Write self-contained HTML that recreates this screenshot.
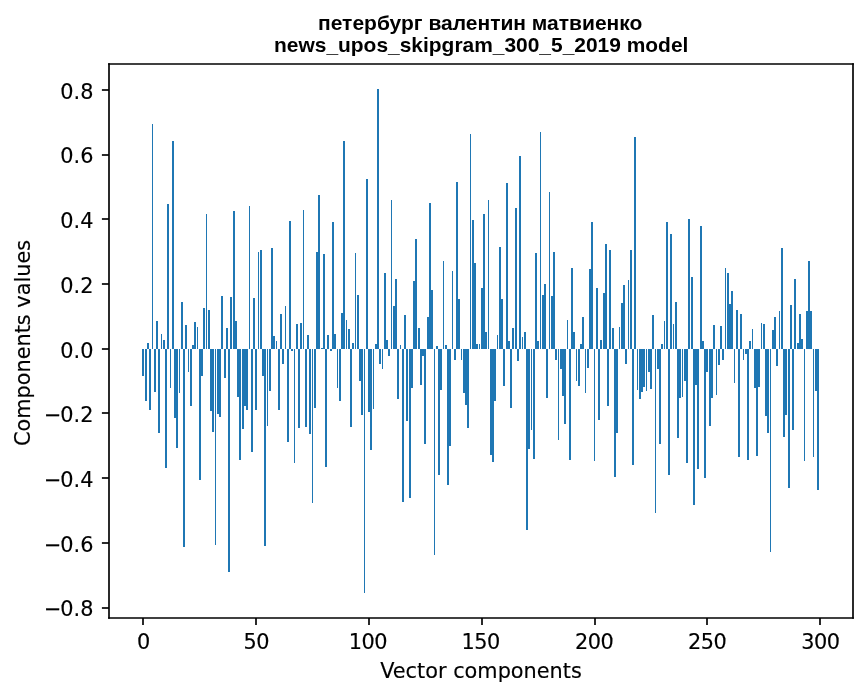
<!DOCTYPE html>
<html lang="ru"><head><meta charset="utf-8"><title>Vector components</title>
<style>html,body{margin:0;padding:0;background:#fff}svg{display:block}.t{font-family:"DejaVu Sans","Liberation Sans",sans-serif;font-size:20.83px;fill:#000;stroke:#000;stroke-width:0.15px}.h{font-family:"Liberation Sans","DejaVu Sans",sans-serif;font-weight:bold;font-size:20.9px;fill:#000}</style></head><body>
<svg width="867" height="696" viewBox="0 0 867 696">
<rect width="867" height="696" fill="#fff"/>
<g fill="#1f77b4" shape-rendering="crispEdges">
<rect x="142" y="349" width="2" height="27"/>
<rect x="145" y="349" width="2" height="52"/>
<rect x="147" y="343" width="2" height="6"/>
<rect x="149" y="349" width="2" height="61"/>
<rect x="152" y="124" width="1" height="225"/>
<rect x="154" y="349" width="2" height="43"/>
<rect x="156" y="321" width="2" height="28"/>
<rect x="158" y="349" width="2" height="84"/>
<rect x="161" y="334" width="1" height="15"/>
<rect x="163" y="340" width="2" height="9"/>
<rect x="165" y="349" width="2" height="119"/>
<rect x="167" y="204" width="2" height="145"/>
<rect x="170" y="349" width="1" height="39"/>
<rect x="172" y="141" width="2" height="208"/>
<rect x="174" y="349" width="2" height="69"/>
<rect x="176" y="349" width="2" height="99"/>
<rect x="179" y="349" width="1" height="44"/>
<rect x="181" y="302" width="2" height="47"/>
<rect x="183" y="349" width="2" height="198"/>
<rect x="185" y="325" width="2" height="24"/>
<rect x="188" y="349" width="1" height="23"/>
<rect x="190" y="349" width="2" height="57"/>
<rect x="192" y="345" width="2" height="4"/>
<rect x="194" y="322" width="2" height="27"/>
<rect x="197" y="327" width="1" height="22"/>
<rect x="199" y="349" width="2" height="131"/>
<rect x="201" y="349" width="2" height="27"/>
<rect x="203" y="308" width="2" height="41"/>
<rect x="206" y="214" width="1" height="135"/>
<rect x="208" y="310" width="2" height="39"/>
<rect x="210" y="349" width="2" height="62"/>
<rect x="212" y="349" width="2" height="83"/>
<rect x="215" y="349" width="1" height="196"/>
<rect x="217" y="349" width="2" height="65"/>
<rect x="219" y="349" width="2" height="68"/>
<rect x="221" y="296" width="2" height="53"/>
<rect x="224" y="349" width="2" height="29"/>
<rect x="226" y="328" width="2" height="21"/>
<rect x="228" y="349" width="2" height="223"/>
<rect x="230" y="297" width="2" height="52"/>
<rect x="233" y="211" width="2" height="138"/>
<rect x="235" y="321" width="2" height="28"/>
<rect x="237" y="349" width="2" height="48"/>
<rect x="239" y="349" width="2" height="111"/>
<rect x="242" y="349" width="2" height="80"/>
<rect x="244" y="349" width="2" height="57"/>
<rect x="246" y="349" width="2" height="61"/>
<rect x="249" y="206" width="1" height="143"/>
<rect x="251" y="349" width="2" height="103"/>
<rect x="253" y="298" width="2" height="51"/>
<rect x="255" y="349" width="2" height="61"/>
<rect x="258" y="252" width="1" height="97"/>
<rect x="260" y="250" width="2" height="99"/>
<rect x="262" y="349" width="2" height="27"/>
<rect x="264" y="349" width="2" height="197"/>
<rect x="267" y="349" width="1" height="77"/>
<rect x="269" y="349" width="2" height="42"/>
<rect x="271" y="248" width="2" height="101"/>
<rect x="273" y="336" width="2" height="13"/>
<rect x="276" y="341" width="1" height="8"/>
<rect x="278" y="349" width="2" height="61"/>
<rect x="280" y="314" width="2" height="35"/>
<rect x="282" y="349" width="2" height="15"/>
<rect x="285" y="306" width="1" height="43"/>
<rect x="287" y="349" width="2" height="93"/>
<rect x="289" y="221" width="2" height="128"/>
<rect x="291" y="349" width="2" height="2"/>
<rect x="294" y="349" width="1" height="114"/>
<rect x="296" y="324" width="2" height="25"/>
<rect x="298" y="349" width="2" height="79"/>
<rect x="300" y="323" width="2" height="26"/>
<rect x="303" y="210" width="1" height="139"/>
<rect x="305" y="349" width="2" height="78"/>
<rect x="307" y="335" width="2" height="14"/>
<rect x="309" y="349" width="2" height="85"/>
<rect x="312" y="349" width="1" height="154"/>
<rect x="314" y="349" width="2" height="59"/>
<rect x="316" y="252" width="2" height="97"/>
<rect x="318" y="195" width="2" height="154"/>
<rect x="321" y="348" width="2" height="1"/>
<rect x="323" y="254" width="2" height="95"/>
<rect x="325" y="349" width="2" height="118"/>
<rect x="327" y="335" width="2" height="14"/>
<rect x="330" y="349" width="2" height="2"/>
<rect x="332" y="222" width="2" height="127"/>
<rect x="334" y="334" width="2" height="15"/>
<rect x="337" y="349" width="1" height="39"/>
<rect x="339" y="349" width="2" height="52"/>
<rect x="341" y="313" width="2" height="36"/>
<rect x="343" y="141" width="2" height="208"/>
<rect x="346" y="320" width="1" height="29"/>
<rect x="348" y="329" width="2" height="20"/>
<rect x="350" y="349" width="2" height="78"/>
<rect x="352" y="343" width="2" height="6"/>
<rect x="355" y="253" width="1" height="96"/>
<rect x="357" y="295" width="2" height="54"/>
<rect x="359" y="349" width="2" height="32"/>
<rect x="361" y="349" width="2" height="66"/>
<rect x="364" y="349" width="1" height="244"/>
<rect x="366" y="179" width="2" height="170"/>
<rect x="368" y="349" width="2" height="63"/>
<rect x="370" y="349" width="2" height="101"/>
<rect x="373" y="349" width="1" height="60"/>
<rect x="375" y="344" width="2" height="5"/>
<rect x="377" y="89" width="2" height="260"/>
<rect x="379" y="349" width="2" height="15"/>
<rect x="382" y="349" width="1" height="20"/>
<rect x="384" y="273" width="2" height="76"/>
<rect x="386" y="340" width="2" height="9"/>
<rect x="388" y="349" width="2" height="7"/>
<rect x="391" y="200" width="1" height="149"/>
<rect x="393" y="306" width="2" height="43"/>
<rect x="395" y="279" width="2" height="70"/>
<rect x="397" y="349" width="2" height="50"/>
<rect x="400" y="345" width="1" height="4"/>
<rect x="402" y="349" width="2" height="153"/>
<rect x="404" y="315" width="2" height="34"/>
<rect x="406" y="349" width="2" height="72"/>
<rect x="409" y="349" width="2" height="149"/>
<rect x="411" y="349" width="2" height="39"/>
<rect x="413" y="281" width="2" height="68"/>
<rect x="415" y="239" width="2" height="110"/>
<rect x="418" y="328" width="2" height="21"/>
<rect x="420" y="349" width="2" height="36"/>
<rect x="422" y="349" width="2" height="7"/>
<rect x="424" y="349" width="2" height="95"/>
<rect x="427" y="317" width="2" height="32"/>
<rect x="429" y="203" width="2" height="146"/>
<rect x="431" y="290" width="2" height="59"/>
<rect x="434" y="349" width="1" height="206"/>
<rect x="436" y="346" width="2" height="3"/>
<rect x="438" y="349" width="2" height="126"/>
<rect x="440" y="349" width="2" height="41"/>
<rect x="443" y="261" width="1" height="88"/>
<rect x="445" y="345" width="2" height="4"/>
<rect x="447" y="349" width="2" height="136"/>
<rect x="449" y="349" width="2" height="97"/>
<rect x="452" y="271" width="1" height="78"/>
<rect x="454" y="349" width="2" height="11"/>
<rect x="456" y="182" width="2" height="167"/>
<rect x="458" y="299" width="2" height="50"/>
<rect x="461" y="349" width="1" height="11"/>
<rect x="463" y="349" width="2" height="44"/>
<rect x="465" y="349" width="2" height="56"/>
<rect x="467" y="349" width="2" height="79"/>
<rect x="470" y="134" width="1" height="215"/>
<rect x="472" y="220" width="2" height="129"/>
<rect x="474" y="263" width="2" height="86"/>
<rect x="476" y="344" width="2" height="5"/>
<rect x="479" y="344" width="1" height="5"/>
<rect x="481" y="288" width="2" height="61"/>
<rect x="483" y="214" width="2" height="135"/>
<rect x="485" y="332" width="2" height="17"/>
<rect x="488" y="200" width="1" height="149"/>
<rect x="490" y="349" width="2" height="106"/>
<rect x="492" y="349" width="2" height="113"/>
<rect x="494" y="349" width="2" height="52"/>
<rect x="497" y="335" width="1" height="14"/>
<rect x="499" y="247" width="2" height="102"/>
<rect x="501" y="299" width="2" height="50"/>
<rect x="503" y="349" width="2" height="37"/>
<rect x="506" y="183" width="2" height="166"/>
<rect x="508" y="341" width="2" height="8"/>
<rect x="510" y="349" width="2" height="59"/>
<rect x="512" y="328" width="2" height="21"/>
<rect x="515" y="208" width="2" height="141"/>
<rect x="517" y="349" width="2" height="12"/>
<rect x="519" y="156" width="2" height="193"/>
<rect x="522" y="337" width="1" height="12"/>
<rect x="524" y="332" width="2" height="17"/>
<rect x="526" y="349" width="2" height="181"/>
<rect x="528" y="349" width="2" height="100"/>
<rect x="531" y="349" width="1" height="81"/>
<rect x="533" y="349" width="2" height="110"/>
<rect x="535" y="253" width="2" height="96"/>
<rect x="537" y="341" width="2" height="8"/>
<rect x="540" y="132" width="1" height="217"/>
<rect x="542" y="295" width="2" height="54"/>
<rect x="544" y="284" width="2" height="65"/>
<rect x="546" y="349" width="2" height="49"/>
<rect x="549" y="192" width="1" height="157"/>
<rect x="551" y="296" width="2" height="53"/>
<rect x="553" y="252" width="2" height="97"/>
<rect x="555" y="349" width="2" height="11"/>
<rect x="558" y="349" width="1" height="91"/>
<rect x="560" y="349" width="2" height="20"/>
<rect x="562" y="349" width="2" height="47"/>
<rect x="564" y="349" width="2" height="75"/>
<rect x="567" y="320" width="1" height="29"/>
<rect x="569" y="349" width="2" height="111"/>
<rect x="571" y="268" width="2" height="81"/>
<rect x="573" y="332" width="2" height="17"/>
<rect x="576" y="349" width="1" height="32"/>
<rect x="578" y="349" width="2" height="37"/>
<rect x="580" y="344" width="2" height="5"/>
<rect x="582" y="317" width="2" height="32"/>
<rect x="585" y="349" width="1" height="44"/>
<rect x="587" y="349" width="2" height="19"/>
<rect x="589" y="269" width="2" height="80"/>
<rect x="591" y="222" width="2" height="127"/>
<rect x="594" y="349" width="1" height="112"/>
<rect x="596" y="288" width="2" height="61"/>
<rect x="598" y="349" width="2" height="71"/>
<rect x="600" y="340" width="2" height="9"/>
<rect x="603" y="293" width="2" height="56"/>
<rect x="605" y="244" width="2" height="105"/>
<rect x="607" y="349" width="2" height="57"/>
<rect x="609" y="250" width="2" height="99"/>
<rect x="612" y="328" width="2" height="21"/>
<rect x="614" y="349" width="2" height="128"/>
<rect x="616" y="349" width="2" height="84"/>
<rect x="619" y="327" width="1" height="22"/>
<rect x="621" y="303" width="2" height="46"/>
<rect x="623" y="285" width="2" height="64"/>
<rect x="625" y="349" width="2" height="15"/>
<rect x="628" y="280" width="1" height="69"/>
<rect x="630" y="250" width="2" height="99"/>
<rect x="632" y="349" width="2" height="116"/>
<rect x="634" y="137" width="2" height="212"/>
<rect x="637" y="349" width="1" height="41"/>
<rect x="639" y="349" width="2" height="50"/>
<rect x="641" y="349" width="2" height="43"/>
<rect x="643" y="349" width="2" height="38"/>
<rect x="646" y="349" width="1" height="42"/>
<rect x="648" y="349" width="2" height="23"/>
<rect x="650" y="349" width="2" height="40"/>
<rect x="652" y="315" width="2" height="34"/>
<rect x="655" y="349" width="1" height="164"/>
<rect x="657" y="349" width="2" height="20"/>
<rect x="659" y="349" width="2" height="95"/>
<rect x="661" y="344" width="2" height="5"/>
<rect x="664" y="321" width="1" height="28"/>
<rect x="666" y="222" width="2" height="127"/>
<rect x="668" y="349" width="2" height="126"/>
<rect x="670" y="234" width="2" height="115"/>
<rect x="673" y="324" width="1" height="25"/>
<rect x="675" y="302" width="2" height="47"/>
<rect x="677" y="349" width="2" height="89"/>
<rect x="679" y="349" width="2" height="49"/>
<rect x="682" y="349" width="1" height="48"/>
<rect x="684" y="349" width="2" height="32"/>
<rect x="686" y="349" width="2" height="114"/>
<rect x="688" y="219" width="2" height="130"/>
<rect x="691" y="277" width="2" height="72"/>
<rect x="693" y="349" width="2" height="156"/>
<rect x="695" y="349" width="2" height="36"/>
<rect x="697" y="349" width="2" height="120"/>
<rect x="700" y="226" width="2" height="123"/>
<rect x="702" y="341" width="2" height="8"/>
<rect x="704" y="349" width="2" height="129"/>
<rect x="706" y="349" width="2" height="23"/>
<rect x="709" y="349" width="2" height="77"/>
<rect x="711" y="349" width="2" height="49"/>
<rect x="713" y="325" width="2" height="24"/>
<rect x="716" y="349" width="1" height="46"/>
<rect x="718" y="349" width="2" height="16"/>
<rect x="720" y="326" width="2" height="23"/>
<rect x="722" y="349" width="2" height="11"/>
<rect x="725" y="268" width="1" height="81"/>
<rect x="727" y="273" width="2" height="76"/>
<rect x="729" y="304" width="2" height="45"/>
<rect x="731" y="291" width="2" height="58"/>
<rect x="734" y="349" width="1" height="34"/>
<rect x="736" y="310" width="2" height="39"/>
<rect x="738" y="349" width="2" height="108"/>
<rect x="740" y="314" width="2" height="35"/>
<rect x="743" y="349" width="1" height="11"/>
<rect x="745" y="349" width="2" height="5"/>
<rect x="747" y="349" width="2" height="111"/>
<rect x="749" y="341" width="2" height="8"/>
<rect x="752" y="329" width="1" height="20"/>
<rect x="754" y="349" width="2" height="39"/>
<rect x="756" y="349" width="2" height="107"/>
<rect x="758" y="349" width="2" height="38"/>
<rect x="761" y="323" width="1" height="26"/>
<rect x="763" y="324" width="2" height="25"/>
<rect x="765" y="349" width="2" height="67"/>
<rect x="767" y="349" width="2" height="84"/>
<rect x="770" y="349" width="1" height="203"/>
<rect x="772" y="330" width="2" height="19"/>
<rect x="774" y="317" width="2" height="32"/>
<rect x="776" y="349" width="2" height="17"/>
<rect x="779" y="311" width="1" height="38"/>
<rect x="781" y="248" width="2" height="101"/>
<rect x="783" y="349" width="2" height="88"/>
<rect x="785" y="349" width="2" height="66"/>
<rect x="788" y="349" width="2" height="139"/>
<rect x="790" y="305" width="2" height="44"/>
<rect x="792" y="349" width="2" height="81"/>
<rect x="794" y="279" width="2" height="70"/>
<rect x="797" y="343" width="2" height="6"/>
<rect x="799" y="314" width="2" height="35"/>
<rect x="801" y="339" width="2" height="10"/>
<rect x="804" y="349" width="1" height="112"/>
<rect x="806" y="311" width="2" height="38"/>
<rect x="808" y="261" width="2" height="88"/>
<rect x="810" y="311" width="2" height="38"/>
<rect x="813" y="349" width="1" height="108"/>
<rect x="815" y="349" width="2" height="42"/>
<rect x="817" y="349" width="2" height="141"/>
</g>
<g stroke="#000" stroke-width="1.667" stroke-linecap="square">
<line x1="109.00" y1="64.00" x2="109.00" y2="618.00"/>
<line x1="853.00" y1="64.00" x2="853.00" y2="618.00"/>
<line x1="109.00" y1="618.00" x2="853.00" y2="618.00"/>
<line x1="109.00" y1="64.00" x2="853.00" y2="64.00"/>
</g>
<g stroke="#000" stroke-width="1.667">
<line x1="143.00" y1="618.00" x2="143.00" y2="625.10"/>
<line x1="256.00" y1="618.00" x2="256.00" y2="625.10"/>
<line x1="369.00" y1="618.00" x2="369.00" y2="625.10"/>
<line x1="482.00" y1="618.00" x2="482.00" y2="625.10"/>
<line x1="595.00" y1="618.00" x2="595.00" y2="625.10"/>
<line x1="707.00" y1="618.00" x2="707.00" y2="625.10"/>
<line x1="820.00" y1="618.00" x2="820.00" y2="625.10"/>
<line x1="101.90" y1="608.00" x2="109.00" y2="608.00"/>
<line x1="101.90" y1="543.00" x2="109.00" y2="543.00"/>
<line x1="101.90" y1="478.00" x2="109.00" y2="478.00"/>
<line x1="101.90" y1="413.00" x2="109.00" y2="413.00"/>
<line x1="101.90" y1="349.00" x2="109.00" y2="349.00"/>
<line x1="101.90" y1="284.00" x2="109.00" y2="284.00"/>
<line x1="101.90" y1="219.00" x2="109.00" y2="219.00"/>
<line x1="101.90" y1="155.00" x2="109.00" y2="155.00"/>
<line x1="101.90" y1="90.00" x2="109.00" y2="90.00"/>
</g>
<g class="t" text-anchor="middle" style="letter-spacing:-0.5px">
<text x="143.39" y="648.60">0</text>
<text x="256.29" y="648.60">50</text>
<text x="367.94" y="648.60">100</text>
<text x="480.59" y="648.60">150</text>
<text x="594.25" y="648.60">200</text>
<text x="707.20" y="648.60">250</text>
<text x="820.30" y="648.60">300</text>
</g>
<g class="t" text-anchor="end">
<text x="93.40" y="615.70">−<tspan dx="-1.2">0.8</tspan></text>
<text x="93.40" y="551.70">−<tspan dx="-1.2">0.6</tspan></text>
<text x="93.40" y="486.70">−<tspan dx="-1.2">0.4</tspan></text>
<text x="93.40" y="421.70">−<tspan dx="-1.2">0.2</tspan></text>
<text x="93.40" y="357.70">0.0</text>
<text x="93.40" y="292.70">0.2</text>
<text x="93.40" y="227.70">0.4</text>
<text x="93.40" y="162.70">0.6</text>
<text x="93.40" y="98.70">0.8</text>
</g>
<text class="t" text-anchor="middle" x="481" y="677.7">Vector components</text>
<text class="t" text-anchor="middle" transform="translate(29.5,343) rotate(-90)">Components values</text>
<text class="h" style="font-size:21px" text-anchor="middle" x="480.2" y="29.6">петербург валентин матвиенко</text>
<text class="h" style="font-size:20.94px" text-anchor="middle" x="481.2" y="51.6">news_upos_skipgram_300_5_2019 model</text>
</svg></body></html>
